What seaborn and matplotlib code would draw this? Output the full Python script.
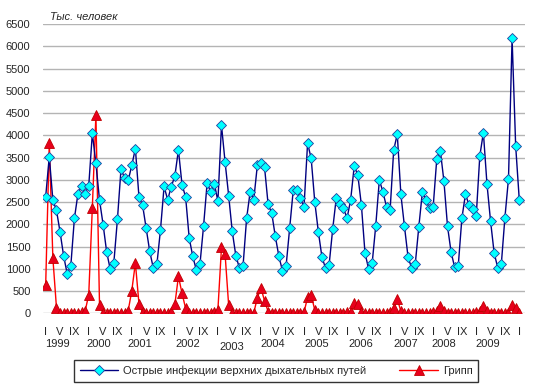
import matplotlib
matplotlib.use('Agg')
import matplotlib.pyplot as plt
import numpy as np
import pandas as pd
import seaborn as sns

# monthly values, Jan 1999 .. Jan 2010 (thousand people)
ari = [2620, 3520, 2545, 2315, 1830, 1290, 885, 1065, 2130, 2690, 2855, 2690,
       2865, 4040, 3370, 2545, 1995, 1375, 985, 1140, 2115, 3250, 3030, 2985,
       3325, 3700, 2615, 2435, 1920, 1390, 1015, 1105, 1880, 2850, 2550, 2845,
       3085, 3670, 2890, 2615, 1690, 1280, 965, 1105, 1955, 2930, 2720, 2915,
       2520, 4225, 3400, 2645, 1840, 1295, 1015, 1055, 2130, 2735, 2555, 3330,
       3385, 3285, 2445, 2255, 1730, 1280, 955, 1055, 1920, 2765, 2765, 2580,
       2390, 3820, 3480, 2505, 1830, 1265, 1015, 1090, 1895, 2595, 2465, 2355,
       2140, 2545, 3310, 3105, 2430, 1355, 1000, 1125, 1970, 2995, 2730, 2390,
       2315, 3670, 4025, 2670, 1955, 1265, 1015, 1100, 1940, 2730, 2535, 2355,
       2385, 3460, 3655, 2970, 1955, 1375, 1030, 1070, 2130, 2675, 2435, 2345,
       2180, 3535, 4060, 2905, 2070, 1355, 1025, 1105, 2150, 3025, 6180, 3760,
       2555]
flu = [640, 3830, 1240, 130, 10, 5, 5, 5, 5, 10, 20, 50,
       420, 2370, 4460, 190, 10, 5, 5, 5, 5, 5, 10, 60,
       510, 1130, 215, 20, 5, 5, 5, 5, 5, 5, 10, 40,
       200, 830, 450, 110, 10, 5, 5, 5, 5, 5, 10, 30,
       80, 1480, 1330, 180, 10, 5, 5, 5, 5, 5, 10, 350,
       570, 280, 40, 5, 5, 5, 5, 5, 5, 5, 10, 10,
       20, 360, 410, 75, 10, 5, 5, 5, 5, 5, 10, 15,
       20, 30, 230, 200, 30, 5, 5, 5, 5, 5, 10, 15,
       20, 120, 320, 50, 10, 5, 5, 5, 5, 5, 10, 15,
       20, 50, 165, 50, 10, 5, 5, 5, 5, 5, 10, 15,
       20, 60, 170, 50, 10, 5, 5, 5, 5, 10, 190, 110,
       5]
years = list(range(1999, 2010))
month_labels = ['I', 'V', 'IX']
# where the year captions sit (in months from Jan 1999) and small vertical shifts
year_label_x = [3.2, 14.9, 26.3, 39.7, 52, 63.4, 75.6, 87.9, 100.4, 111, 123.3]
year_label_dy = [0, 0, 0, 0, -0.011, 0, 0, 0, 0, 0, 0]

df = pd.DataFrame({'month': np.arange(len(ari)), 'ari': ari, 'flu': flu})

sns.set_style('white')
plt.rcParams['font.family'] = ['Liberation Sans', 'DejaVu Sans']

fig = plt.figure(figsize=(5.39, 3.9), dpi=100)
ax = fig.add_axes([43 / 539, 1 - 313.3 / 390, (525 - 43) / 539, (313.3 - 24) / 390])

sns.lineplot(data=df, x='month', y='flu', ax=ax, color='#FF0000', lw=1,
             marker='^', markersize=6.5, markerfacecolor='#E8001C',
             markeredgecolor='#C00000', markeredgewidth=0.6, label='Грипп', zorder=3)
sns.lineplot(data=df, x='month', y='ari', ax=ax, color='#000080', lw=1,
             marker='D', markersize=5, markerfacecolor='#00FFFF',
             markeredgecolor='#1F3F9F', markeredgewidth=0.6,
             label='Острые инфекции верхних дыхательных путей', zorder=4)

ax.set_xlim(-0.75, len(ari) - 1 + 1.6)
ax.set_ylim(0, 6500)
ax.set_yticks(np.arange(0, 6501, 500))
ax.yaxis.grid(True, color='#B4B4B4', lw=1)
ax.set_axisbelow(True)
for s in ax.spines.values():
    s.set_visible(False)

ticks = [i for i in range(0, len(ari), 4)]
ax.set_xticks(ticks)
ax.set_xticklabels([month_labels[(i % 12) // 4] for i in ticks])
ax.tick_params(axis='x', length=0, pad=10, labelsize=8)
ax.tick_params(axis='y', length=0, pad=9, labelsize=8)
ax.set_xlabel('')
ax.set_ylabel('')

trans = matplotlib.transforms.blended_transform_factory(ax.transData, ax.transAxes)
for yr, xp, dy in zip(years, year_label_x, year_label_dy):
    ax.text(xp, -0.106 + dy, str(yr), transform=trans, ha='center', va='center', fontsize=8)

fig.text(50 / 539, 1 - 17 / 390, 'Тыс. человек', ha='left', va='center',
         fontsize=8, style='italic')

h, l = ax.get_legend_handles_labels()
leg = ax.legend(h[::-1], l[::-1], loc='center', bbox_to_anchor=(276 / 539, 1 - 371 / 390),
                bbox_transform=fig.transFigure, ncol=2, frameon=True, fancybox=False,
                fontsize=8, handlelength=3.5, columnspacing=3, borderpad=0.5,
                handletextpad=0.4)
leg.get_frame().set_edgecolor('black')
leg.get_frame().set_linewidth(1)

fig.savefig('out.png', dpi=100)
